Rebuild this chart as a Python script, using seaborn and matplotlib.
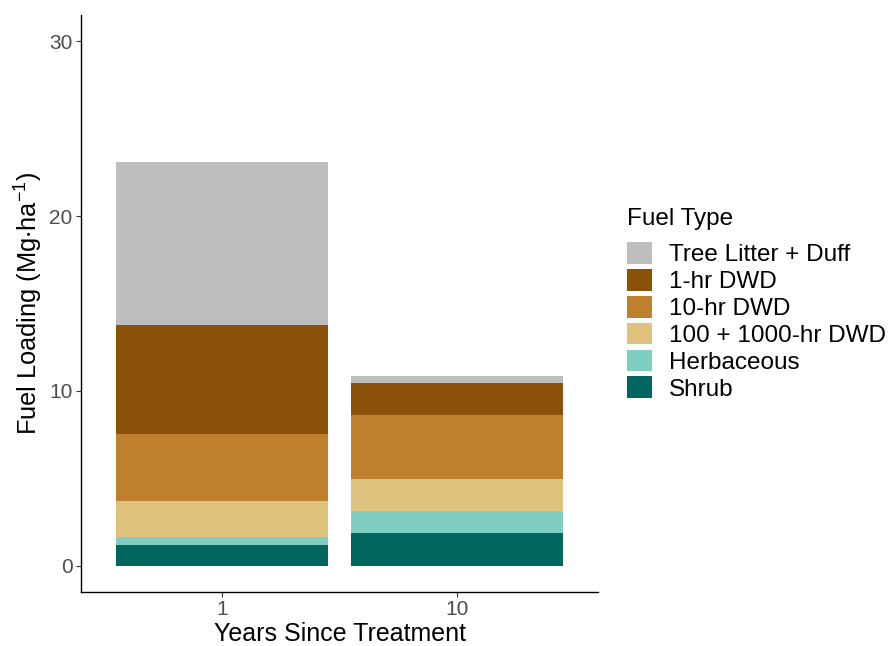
import matplotlib
matplotlib.use("Agg")
import matplotlib.pyplot as plt
from matplotlib.patches import Patch
import seaborn as sns
import numpy as np
import pandas as pd

# Fuel loading (Mg/ha) by fuel type, for each time since treatment
years = ["1", "10"]
fuel_types = ["Shrub", "Herbaceous", "100 + 1000-hr DWD", "10-hr DWD", "1-hr DWD",
              "Tree Litter + Duff"]
shrub = [1.16, 1.90]
herbaceous = [0.50, 1.24]
dwd_100_1000 = [2.05, 1.81]
dwd_10 = [3.81, 3.68]
dwd_1 = [6.23, 1.81]
litter_duff = [9.35, 0.40]
colors = ["#01665E", "#80CDC1", "#DFC27D", "#BF812D", "#8C510A", "#BEBEBE"]
y_ticks = [0, 10, 20, 30]

layers = [shrub, herbaceous, dwd_100_1000, dwd_10, dwd_1, litter_duff]

sns.set_theme(style="white")
plt.rcParams["font.family"] = ["Liberation Sans", "DejaVu Sans"]
plt.rcParams["mathtext.fontset"] = "custom"
plt.rcParams["mathtext.rm"] = "Liberation Sans"
plt.rcParams["mathtext.it"] = "Liberation Sans"
plt.rcParams["mathtext.default"] = "regular"
plt.rcParams["text.color"] = "black"

fig = plt.figure(figsize=(8.91, 6.46), dpi=100)
ax = fig.add_axes([81 / 891, 54 / 646, 517 / 891, 577 / 646])

# Stacked bars: each fuel type sits on top of the running total
bottom = np.zeros(len(years))
for name, vals, col in zip(fuel_types, layers, colors):
    df = pd.DataFrame({"years": years, "load": vals})
    sns.barplot(data=df, x="years", y="load", order=years, color=col,
                saturation=1, width=0.9, errorbar=None, bottom=bottom,
                linewidth=0, ax=ax)
    bottom = bottom + np.array(vals)

ax.set_xlim(-0.6, 1.6)
ax.set_ylim(-1.5, 31.5)
ax.set_yticks(y_ticks)

for side in ["top", "right"]:
    ax.spines[side].set_visible(False)
for side in ["left", "bottom"]:
    ax.spines[side].set_color("black")
    ax.spines[side].set_linewidth(1.0)

ax.tick_params(axis="both", which="major", length=3.5, width=0.8, color="#333333",
               labelsize=15, labelcolor="#4D4D4D", left=True, bottom=True, pad=2.5)

ax.set_xlabel("Years Since Treatment", fontsize=18, color="black", labelpad=2)
ax.set_ylabel("Fuel Loading (Mg$\\cdot$ha$^{-1}$)", fontsize=18.3, color="black",
              labelpad=0)
ax.yaxis.set_label_coords(-36 / 517, 0.5)

# Legend: topmost layer listed first
handles = [Patch(facecolor=c, edgecolor="none", label=n)
           for n, c in zip(fuel_types[::-1], colors[::-1])]
fig.text(627 / 891, 1 - 225 / 646, "Fuel Type", fontsize=17.5, color="black",
         ha="left", va="baseline")
leg = fig.legend(handles=handles, loc="upper left",
                 bbox_to_anchor=(627 / 891, 1 - 242 / 646),
                 frameon=False, fontsize=17.5, borderpad=0, borderaxespad=0,
                 handlelength=1.03, handleheight=1.0, handletextpad=0.68,
                 labelspacing=0.11)
for t in leg.get_texts():
    t.set_color("black")

fig.savefig("out.png", dpi=100, facecolor="white")
